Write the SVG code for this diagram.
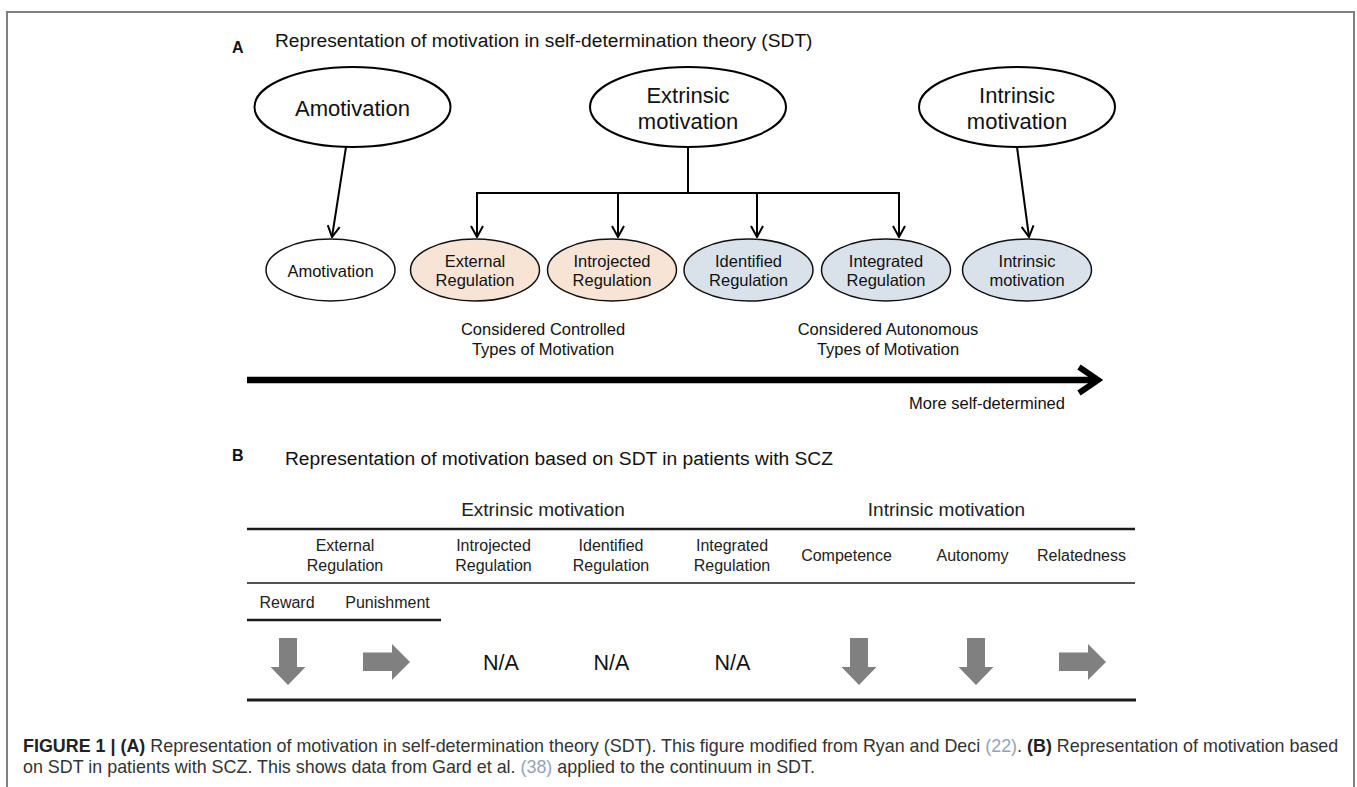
<svg xmlns="http://www.w3.org/2000/svg" width="1357" height="787" viewBox="0 0 1357 787">
  <defs>
    <style>
      text { font-family: "Liberation Sans", Arial, sans-serif; fill: #111; }
      .title { font-size: 19.2px; }
      .panel { font-size: 16px; font-weight: bold; }
      .big { font-size: 22px; text-anchor: middle; }
      .small { font-size: 16.5px; text-anchor: middle; }
      .note { font-size: 16.5px; text-anchor: middle; }
      .col { font-size: 16px; text-anchor: middle; fill: #222; }
      .grp { font-size: 19px; text-anchor: middle; fill: #222; }
      .na { font-size: 21.5px; text-anchor: middle; fill: #111; }
      .cap { font-size: 17.9px; fill: #333; }
      .cap .b { font-weight: bold; fill: #222; }
      .cap .ref { fill: #93a3b8; }
      .bigell { fill: #fff; stroke: #000; stroke-width: 2; }
      .smell { stroke: #111; stroke-width: 1.5; }
      .plain { fill: #fff; }
      .ctrl { fill: #f7e4d4; }
      .auto { fill: #d9e2eb; }
      .conn { stroke: #000; stroke-width: 2; fill: none; }
      .rule { stroke: #1a1a1a; fill: none; }
      .trend { fill: #808080; }
    </style>
    <marker id="open" viewBox="-13 -7 14 14" markerWidth="14" markerHeight="14" refX="0" refY="0" orient="auto" markerUnits="userSpaceOnUse">
      <path d="M-11,-6 L0,0 L-11,6" fill="none" stroke="#000" stroke-width="2"/>
    </marker>
  </defs>

  <!-- frame -->
  <path d="M7,800 V12 H1354 V800" fill="none" stroke="#808080" stroke-width="2"/>

  <!-- panel A heading -->
  <text class="panel" x="232" y="53">A</text>
  <text class="title" x="275" y="47">Representation of motivation in self-determination theory (SDT)</text>

  <!-- top-level categories -->
  <g id="top-amotivation">
    <ellipse class="bigell" cx="352.5" cy="107" rx="98" ry="40"/>
    <text class="big" x="352.5" y="116">Amotivation</text>
  </g>
  <g id="top-extrinsic">
    <ellipse class="bigell" cx="688" cy="107" rx="98" ry="40"/>
    <text class="big" x="688" y="103">Extrinsic</text>
    <text class="big" x="688" y="129">motivation</text>
  </g>
  <g id="top-intrinsic">
    <ellipse class="bigell" cx="1017" cy="107" rx="98" ry="40"/>
    <text class="big" x="1017" y="103">Intrinsic</text>
    <text class="big" x="1017" y="129">motivation</text>
  </g>

  <!-- regulation types -->
  <g id="amotivation">
    <ellipse class="smell plain" cx="330.5" cy="270" rx="64.5" ry="31"/>
    <text class="small" x="330.5" y="277">Amotivation</text>
  </g>
  <g id="external-regulation">
    <ellipse class="smell ctrl" cx="475" cy="270" rx="64.5" ry="31"/>
    <text class="small" x="475" y="267">External</text>
    <text class="small" x="475" y="286">Regulation</text>
  </g>
  <g id="introjected-regulation">
    <ellipse class="smell ctrl" cx="612" cy="270" rx="64.5" ry="31"/>
    <text class="small" x="612" y="267">Introjected</text>
    <text class="small" x="612" y="286">Regulation</text>
  </g>
  <g id="identified-regulation">
    <ellipse class="smell auto" cx="748.5" cy="270" rx="64.5" ry="31"/>
    <text class="small" x="748.5" y="267">Identified</text>
    <text class="small" x="748.5" y="286">Regulation</text>
  </g>
  <g id="integrated-regulation">
    <ellipse class="smell auto" cx="886" cy="270" rx="64.5" ry="31"/>
    <text class="small" x="886" y="267">Integrated</text>
    <text class="small" x="886" y="286">Regulation</text>
  </g>
  <g id="intrinsic-motivation">
    <ellipse class="smell auto" cx="1027" cy="270" rx="64.5" ry="31"/>
    <text class="small" x="1027" y="267">Intrinsic</text>
    <text class="small" x="1027" y="286">motivation</text>
  </g>

  <!-- connectors -->
  <g id="connectors">
    <line class="conn" x1="346" y1="147" x2="332" y2="237" marker-end="url(#open)"/>
    <line class="conn" x1="688" y1="147" x2="688" y2="193"/>
    <line class="conn" x1="477" y1="193" x2="899" y2="193" stroke-linecap="square"/>
    <line class="conn" x1="477" y1="193" x2="477" y2="237" marker-end="url(#open)"/>
    <line class="conn" x1="618" y1="193" x2="618" y2="237" marker-end="url(#open)"/>
    <line class="conn" x1="757" y1="193" x2="757" y2="237" marker-end="url(#open)"/>
    <line class="conn" x1="899" y1="193" x2="899" y2="237" marker-end="url(#open)"/>
    <line class="conn" x1="1017" y1="147" x2="1029" y2="237" marker-end="url(#open)"/>
  </g>

  <!-- grouping notes -->
  <text class="note" x="543" y="335">Considered Controlled</text>
  <text class="note" x="543" y="355">Types of Motivation</text>
  <text class="note" x="888" y="335">Considered Autonomous</text>
  <text class="note" x="888" y="355">Types of Motivation</text>

  <!-- continuum arrow -->
  <g id="continuum">
    <line x1="247" y1="380" x2="1096" y2="380" stroke="#000" stroke-width="6.5"/>
    <polyline points="1079,367 1098,380 1079,393" fill="none" stroke="#000" stroke-width="6" stroke-linejoin="miter"/>
    <text class="note" x="987" y="409">More self-determined</text>
  </g>

  <!-- panel B heading -->
  <text class="panel" x="232" y="461">B</text>
  <text class="title" x="285" y="465">Representation of motivation based on SDT in patients with SCZ</text>

  <!-- table -->
  <g id="table">
    <text class="grp" x="543" y="516">Extrinsic motivation</text>
    <text class="grp" x="946.5" y="516">Intrinsic motivation</text>
    <line class="rule" x1="247" y1="529" x2="1135" y2="529" stroke-width="2.6"/>

    <text class="col" x="345" y="551">External</text>
    <text class="col" x="345" y="571">Regulation</text>
    <text class="col" x="493.5" y="551">Introjected</text>
    <text class="col" x="493.5" y="571">Regulation</text>
    <text class="col" x="611" y="551">Identified</text>
    <text class="col" x="611" y="571">Regulation</text>
    <text class="col" x="732" y="551">Integrated</text>
    <text class="col" x="732" y="571">Regulation</text>
    <text class="col" x="846.5" y="561">Competence</text>
    <text class="col" x="972.5" y="561">Autonomy</text>
    <text class="col" x="1081.5" y="561">Relatedness</text>
    <line class="rule" x1="247" y1="583" x2="1135" y2="583" stroke-width="1.6" stroke="#333"/>

    <text class="col" x="287" y="608">Reward</text>
    <text class="col" x="387.5" y="608">Punishment</text>
    <line class="rule" x1="247" y1="620" x2="441" y2="620" stroke-width="2.4"/>

    <!-- trend arrows -->
    <polygon class="trend" points="279,638 297,638 297,667 305.5,667 288,685 270.5,667 279,667"/>
    <polygon class="trend" points="363,652.5 392,652.5 392,644 410,662 392,680 392,671 363,671"/>
    <text class="na" x="501" y="670">N/A</text>
    <text class="na" x="611.5" y="670">N/A</text>
    <text class="na" x="732.5" y="670">N/A</text>
    <polygon class="trend" points="850,638 868,638 868,667 876.5,667 859,685 841.5,667 850,667"/>
    <polygon class="trend" points="967,638 985,638 985,667 993.5,667 976,685 958.5,667 967,667"/>
    <polygon class="trend" points="1059,652.5 1088,652.5 1088,644 1106,662 1088,680 1088,671 1059,671"/>

    <line class="rule" x1="247" y1="700" x2="1136" y2="700" stroke-width="3"/>
  </g>

  <!-- caption -->
  <text class="cap" x="23" y="752"><tspan class="b">FIGURE 1 | (A)</tspan> Representation of motivation in self-determination theory (SDT). This figure modified from Ryan and Deci <tspan class="ref">(22)</tspan>. <tspan class="b">(B)</tspan> Representation of motivation based</text>
  <text class="cap" x="23" y="773">on SDT in patients with SCZ. This shows data from Gard et al. <tspan class="ref">(38)</tspan> applied to the continuum in SDT.</text>
</svg>
